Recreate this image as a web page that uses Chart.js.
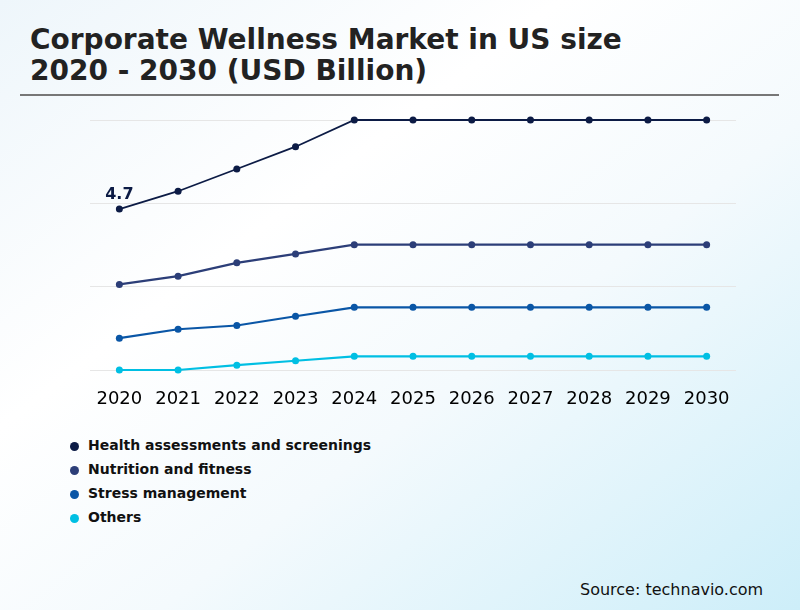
<!DOCTYPE html>
<html>
<head>
<meta charset="utf-8">
<script src="https://cdn.jsdelivr.net/npm/chart.js@4.4.1/dist/chart.umd.min.js"></script>
<style>
  html, body { margin: 0; padding: 0; }
  body {
    width: 800px; height: 610px; position: relative; overflow: hidden;
    font-family: "DejaVu Sans", sans-serif;
    background: linear-gradient(to bottom right, #eef6fb 0%, #ffffff 35%, #f4fafd 60%, #cdeef9 100%);
  }
  #title {
    position: absolute; left: 30px; top: 24px;
    font-weight: bold; font-size: 28px; line-height: 31px; color: #222;
  }
  #rule { position: absolute; left: 20px; top: 94px; width: 759px; height: 2px; background: #777; }
  #wrap { position: absolute; left: 0; top: 0; width: 800px; height: 420px; }
  #legend { position: absolute; left: 70px; top: 433px; }
  .row { height: 24px; line-height: 24px; font-weight: bold; font-size: 14px; color: #111; white-space: nowrap; }
  .dot { display: inline-block; width: 9px; height: 9px; border-radius: 50%; margin-right: 9px; vertical-align: -1px; }
  #source { position: absolute; left: 580px; top: 580px; font-size: 16px; color: #111; }
</style>
</head>
<body>
<div id="title">Corporate Wellness Market in US size<br>2020 - 2030 (USD Billion)</div>
<div id="rule"></div>
<div id="wrap"><canvas id="mycanvas"></canvas></div>
<div id="legend"></div>
<div id="source">Source: technavio.com</div>

<script>
// Years on x axis
var years = ['2020','2021','2022','2023','2024','2025','2026','2027','2028','2029','2030'];
// Series names
var segments = ['Health assessments and screenings', 'Nutrition and fitness', 'Stress management', 'Others'];
// Values (USD Billion)
var health    = [4.70, 5.22, 5.87, 6.52, 7.30, 7.30, 7.30, 7.30, 7.30, 7.30, 7.30];
var nutrition = [2.50, 2.74, 3.13, 3.39, 3.66, 3.66, 3.66, 3.66, 3.66, 3.66, 3.66];
var stress    = [0.93, 1.19, 1.30, 1.57, 1.83, 1.83, 1.83, 1.83, 1.83, 1.83, 1.83];
var others    = [0.00, 0.00, 0.14, 0.27, 0.40, 0.40, 0.40, 0.40, 0.40, 0.40, 0.40];
var colors = ['#0c1b45', '#2c3e78', '#0a56a6', '#00bfe3'];
var widths = [1.8, 2.2, 2.2, 2.2];

var series = [health, nutrition, stress, others];
var datasets = [];
for (var i = 0; i < series.length; i++)
{
  datasets.push({
    label: segments[i],
    data: series[i],
    borderColor: colors[i],
    backgroundColor: colors[i],
    borderWidth: widths[i],
    pointRadius: 3.5,
    pointHoverRadius: 3.5,
    pointBorderWidth: 0,
    fill: false,
    tension: 0,
    clip: false
  });
}

// "4.7" label over the first point of the first line
var firstLabel = {
  id: 'firstLabel',
  afterDatasetsDraw: function(chart)
  {
    var pt = chart.getDatasetMeta(0).data[0];
    var c = chart.ctx;
    c.save();
    c.font = 'bold 16px "DejaVu Sans"';
    c.fillStyle = colors[0];
    c.textAlign = 'center';
    c.textBaseline = 'alphabetic';
    c.fillText(health[0].toFixed(1), pt.x, pt.y - 10);
    c.restore();
  }
};

var ctx = document.getElementById('mycanvas');
var lineGraph = new Chart(ctx, {
  type: 'line',
  data: { labels: years, datasets: datasets },
  options: {
    responsive: true,
    maintainAspectRatio: false,
    animation: false,
    layout: { padding: { left: 90, right: 64, top: 120, bottom: 0 } },
    plugins: { legend: { display: false }, tooltip: { enabled: false }, title: { display: false } },
    scales: {
      x: {
        offset: true,
        grid: { display: false, drawTicks: false },
        border: { display: false },
        ticks: { color: '#000', font: { family: 'DejaVu Sans', size: 18 }, padding: 19, maxRotation: 0, autoSkip: false },
        afterFit: function(scale) { scale.height = 50; }
      },
      y: {
        min: 0,
        max: 7.3,
        ticks: { display: false, count: 4 },
        grid: { color: '#e6e6e6', lineWidth: 1, drawTicks: false },
        border: { display: false },
        afterFit: function(scale) { scale.width = 0; }
      }
    }
  },
  plugins: [firstLabel]
});

// Legend built from the same names and colours
var legend = document.getElementById('legend');
for (var j = 0; j < segments.length; j++)
{
  var row = document.createElement('div');
  row.className = 'row';
  var dot = document.createElement('span');
  dot.className = 'dot';
  dot.style.background = colors[j];
  row.appendChild(dot);
  row.appendChild(document.createTextNode(segments[j]));
  legend.appendChild(row);
}
</script>
</body>
</html>
